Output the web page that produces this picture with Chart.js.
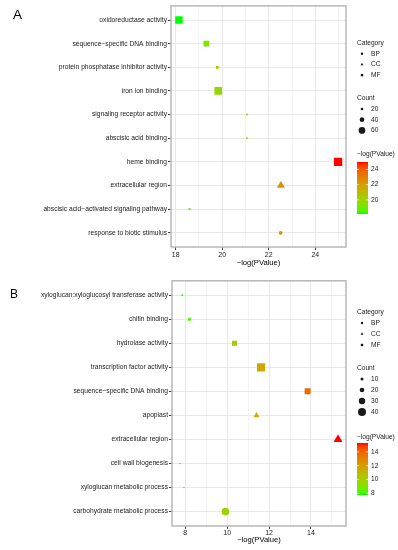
<!DOCTYPE html>
<html>
<head>
<meta charset="utf-8">
<script src="https://cdn.jsdelivr.net/npm/chart.js@4.4.0/dist/chart.umd.min.js"></script>
<style>
  body { margin: 0; background: #fff; }
  canvas { display: block; }
</style>
</head>
<body>
<canvas id="chartA" width="398" height="275"></canvas>
<canvas id="chartB" width="398" height="275"></canvas>
<script>
// Panel A
const termsA = [
    "oxidoreductase activity",
    "sequence\u2212specific DNA binding",
    "protein phosphatase inhibitor activity",
    "iron ion binding",
    "signaling receptor activity",
    "abscisic acid binding",
    "heme binding",
    "extracellular region",
    "abscisic acid\u2212activated signaling pathway",
    "response to biotic stimulus"
];
const pvalA = [18.14, 19.32, 19.79, 19.83, 21.06, 21.06, 24.98, 22.52, 18.6, 22.51];
const countA = [68, 50, 20, 70, 10, 10, 76, 60, 16, 30];
const catA = ["MF", "MF", "MF", "MF", "MF", "MF", "MF", "CC", "BP", "BP"];
const xTicksA = [18, 20, 22, 24];
const countBreaksA = [20, 40, 60];
const colorBreaksA = [20, 22, 24];

// Panel B
const termsB = [
    "xyloglucan:xyloglucosyl transferase activity",
    "chitin binding",
    "hydrolase activity",
    "transcription factor activity",
    "sequence\u2212specific DNA binding",
    "apoplast",
    "extracellular region",
    "cell wall biogenesis",
    "xyloglucan metabolic process",
    "carbohydrate metabolic process"
];
const pvalB = [7.86, 8.2, 10.35, 11.62, 13.84, 11.4, 15.29, 7.75, 7.94, 9.92];
const countB = [2, 9, 22, 41, 28, 22, 37, 1, 2, 38];
const catB = ["MF", "MF", "MF", "MF", "MF", "CC", "CC", "BP", "BP", "BP"];
const xTicksB = [8, 10, 12, 14];
const countBreaksB = [10, 20, 30, 40];
const colorBreaksB = [8, 10, 12, 14];

const categoryNames = ["BP", "CC", "MF"];
const shapeOf = { BP: "circle", CC: "triangle", MF: "rect" };
const FONT = '"Liberation Sans", Arial, sans-serif';
const TEXT = "#1a1a1a";

// green -> red gradient interpolated in Lab space (like ggplot)
function hexToLab(hex) {
    const c = [1, 3, 5].map(i => parseInt(hex.substr(i, 2), 16) / 255)
        .map(v => v <= 0.04045 ? v / 12.92 : Math.pow((v + 0.055) / 1.055, 2.4));
    const X = (0.4124564 * c[0] + 0.3575761 * c[1] + 0.1804375 * c[2]) / 0.95047;
    const Y = 0.2126729 * c[0] + 0.7151522 * c[1] + 0.0721750 * c[2];
    const Z = (0.0193339 * c[0] + 0.1191920 * c[1] + 0.9503041 * c[2]) / 1.08883;
    const f = t => t > 0.008856 ? Math.cbrt(t) : 7.787 * t + 16 / 116;
    return [116 * f(Y) - 16, 500 * (f(X) - f(Y)), 200 * (f(Y) - f(Z))];
}
function labToRgb(L, a, b) {
    const fy = (L + 16) / 116, fx = fy + a / 500, fz = fy - b / 200;
    const inv = t => t * t * t > 0.008856 ? t * t * t : (t - 16 / 116) / 7.787;
    const X = inv(fx) * 0.95047, Y = inv(fy), Z = inv(fz) * 1.08883;
    const lin = [
        3.2404542 * X - 1.5371385 * Y - 0.4985314 * Z,
        -0.9692660 * X + 1.8760108 * Y + 0.0415560 * Z,
        0.0556434 * X - 0.2040259 * Y + 1.0572252 * Z
    ];
    const rgb = lin.map(v => v <= 0.0031308 ? 12.92 * v : 1.055 * Math.pow(v, 1 / 2.4) - 0.055)
        .map(v => Math.round(Math.min(1, Math.max(0, v)) * 255));
    return `rgb(${rgb[0]},${rgb[1]},${rgb[2]})`;
}
const LOW = hexToLab("#00ff00"), HIGH = hexToLab("#ff0000");
function gradColor(t) {
    t = Math.min(1, Math.max(0, t));
    return labToRgb(LOW[0] + (HIGH[0] - LOW[0]) * t, LOW[1] + (HIGH[1] - LOW[1]) * t, LOW[2] + (HIGH[2] - LOW[2]) * t);
}

function markerRadius(shape, d) {
    if (shape === "rect") return d / Math.SQRT2;
    if (shape === "triangle") return 1.2 * d / Math.sqrt(3);
    return d / 2;
}

// legends, panel border and panel letter
const goLegend = {
    id: "goLegend",
    afterDraw(chart, args, o) {
        const ctx = chart.ctx;
        const a = chart.chartArea;
        ctx.save();
        ctx.strokeStyle = "#b8b8b8";
        ctx.lineWidth = 1.5;
        ctx.strokeRect(a.left, a.top, a.right - a.left, a.bottom - a.top);

        ctx.fillStyle = "#000";
        ctx.textAlign = "left";
        ctx.textBaseline = "alphabetic";
        ctx.font = `${o.letterSize}px ${FONT}`;
        ctx.fillText(o.letter, o.letterX, o.letterY);

        ctx.font = `6.6px ${FONT}`;
        ctx.textBaseline = "middle";
        ctx.fillStyle = TEXT;
        const x = o.x;
        ctx.fillText("Category", x, o.catY);
        categoryNames.forEach((c, i) => {
            const y = o.catY + o.step * (i + 1);
            ctx.fillStyle = TEXT;
            Chart.helpers.drawPoint(ctx, { pointStyle: shapeOf[c], radius: markerRadius(shapeOf[c], 2.4), rotation: 0, borderWidth: 0 }, x + 5, y);
            ctx.fillText(c, x + 14, y);
        });

        ctx.fillText("Count", x, o.countY);
        o.countBreaks.forEach((c, i) => {
            const y = o.countY + o.step * (i + 1);
            ctx.fillStyle = TEXT;
            Chart.helpers.drawPoint(ctx, { pointStyle: "circle", radius: o.size(c) / 2, rotation: 0, borderWidth: 0 }, x + 5, y);
            ctx.fillText(String(c), x + 14, y);
        });

        ctx.fillText("\u2212log(PValue)", x, o.barTitleY);
        const bx = x, bw = 11, by = o.barTop, bh = o.barHeight;
        const g = ctx.createLinearGradient(0, by + bh, 0, by);
        for (let i = 0; i <= 20; i++) g.addColorStop(i / 20, gradColor(i / 20));
        ctx.fillStyle = g;
        ctx.fillRect(bx, by, bw, bh);
        ctx.strokeStyle = "#fff";
        ctx.lineWidth = 0.6;
        o.colorBreaks.forEach(v => {
            const y = by + bh - (v - o.vmin) / (o.vmax - o.vmin) * bh;
            ctx.beginPath();
            ctx.moveTo(bx, y); ctx.lineTo(bx + 2.2, y);
            ctx.moveTo(bx + bw - 2.2, y); ctx.lineTo(bx + bw, y);
            ctx.stroke();
            ctx.fillStyle = TEXT;
            ctx.fillText(String(v), bx + 14, y);
        });
        ctx.restore();
    }
};

function makeChart(id, cfg) {
    const vmin = Math.min(...cfg.pval), vmax = Math.max(...cfg.pval);
    const size = c => cfg.sizeA + cfg.sizeB * c;
    const shapes = cfg.cat.map(c => shapeOf[c]);
    const step = cfg.xTicks[1] - cfg.xTicks[0];
    const allTicks = [];
    for (let v = cfg.xTicks[0] - step / 2; v <= cfg.xMax; v += step / 2) {
        if (v >= cfg.xMin) allTicks.push(v);
    }
    const isMajor = v => cfg.xTicks.includes(v);

    return new Chart(document.getElementById(id), {
        type: "scatter",
        data: {
            datasets: [{
                data: cfg.pval.map((p, i) => ({ x: p, y: i + 1 })),
                pointStyle: shapes,
                pointRadius: cfg.count.map((c, i) => markerRadius(shapes[i], size(c))),
                pointBackgroundColor: cfg.pval.map(p => gradColor((p - vmin) / (vmax - vmin))),
                pointBorderWidth: 0
            }]
        },
        options: {
            responsive: false,
            animation: false,
            devicePixelRatio: 1,
            layout: { padding: { left: 0, right: 52, top: cfg.top, bottom: 0 } },
            plugins: {
                legend: { display: false },
                tooltip: { enabled: false },
                goLegend: {
                    letter: cfg.letter, letterSize: cfg.letterSize, letterX: cfg.letterX, letterY: cfg.letterY,
                    x: 357, step: cfg.legendStep, catY: cfg.catY, countY: cfg.countY,
                    barTitleY: cfg.barTitleY, barTop: cfg.barTop, barHeight: 52,
                    countBreaks: cfg.countBreaks, colorBreaks: cfg.colorBreaks,
                    vmin, vmax, size
                }
            },
            scales: {
                x: {
                    type: "linear",
                    min: cfg.xMin,
                    max: cfg.xMax,
                    afterBuildTicks: s => { s.ticks = allTicks.map(v => ({ value: v })); },
                    afterFit: s => { s.height = cfg.xHeight; },
                    ticks: {
                        callback: v => isMajor(v) ? String(v) : "",
                        font: { family: FONT, size: 7 }, color: TEXT, padding: cfg.xTickPad,
                        maxRotation: 0, autoSkip: false
                    },
                    grid: {
                        color: "#e8e8e8",
                        lineWidth: c => c.tick && isMajor(c.tick.value) ? 1 : 0.5,
                        tickColor: c => c.tick && isMajor(c.tick.value) ? "#444" : "rgba(0,0,0,0)",
                        tickLength: 3
                    },
                    border: { display: false },
                    title: {
                        display: true, text: "\u2212log(PValue)", color: "#000",
                        font: { family: FONT, size: 7.6 },
                        padding: { top: 0, bottom: cfg.titlePad }
                    }
                },
                y: {
                    type: "linear",
                    reverse: true,
                    min: 0.4,
                    max: cfg.terms.length + 0.6,
                    afterBuildTicks: s => { s.ticks = cfg.terms.map((t, i) => ({ value: i + 1 })); },
                    afterFit: s => { s.width = cfg.left; },
                    ticks: {
                        callback: v => cfg.terms[v - 1],
                        font: { family: FONT, size: 6.7 }, color: TEXT, padding: 1, autoSkip: false
                    },
                    grid: { color: "#e8e8e8", lineWidth: 1, tickColor: "#444", tickLength: 3 },
                    border: { display: false }
                }
            }
        },
        plugins: [goLegend]
    });
}

makeChart("chartA", {
    terms: termsA, pval: pvalA, count: countA, cat: catA,
    xTicks: xTicksA, xMin: 17.8, xMax: 25.32,
    countBreaks: countBreaksA, colorBreaks: colorBreaksA,
    sizeA: 0.7, sizeB: 0.1,
    top: 5, left: 171, xHeight: 28, xTickPad: 0.5, titlePad: 7.5,
    letter: "A", letterSize: 13.5, letterX: 13, letterY: 19,
    legendStep: 10.7, catY: 43, countY: 98.3, barTitleY: 154.3, barTop: 162
});

makeChart("chartB", {
    terms: termsB, pval: pvalB, count: countB, cat: catB,
    xTicks: xTicksB, xMin: 7.37, xMax: 15.67,
    countBreaks: countBreaksB, colorBreaks: colorBreaksB,
    sizeA: 1.33, sizeB: 0.167,
    top: 4, left: 172, xHeight: 24, xTickPad: 0, titlePad: 5.5,
    letter: "B", letterSize: 12, letterX: 10, letterY: 23.3,
    legendStep: 11, catY: 37, countY: 93, barTitleY: 161.7, barTop: 168
});
</script>
</body>
</html>
